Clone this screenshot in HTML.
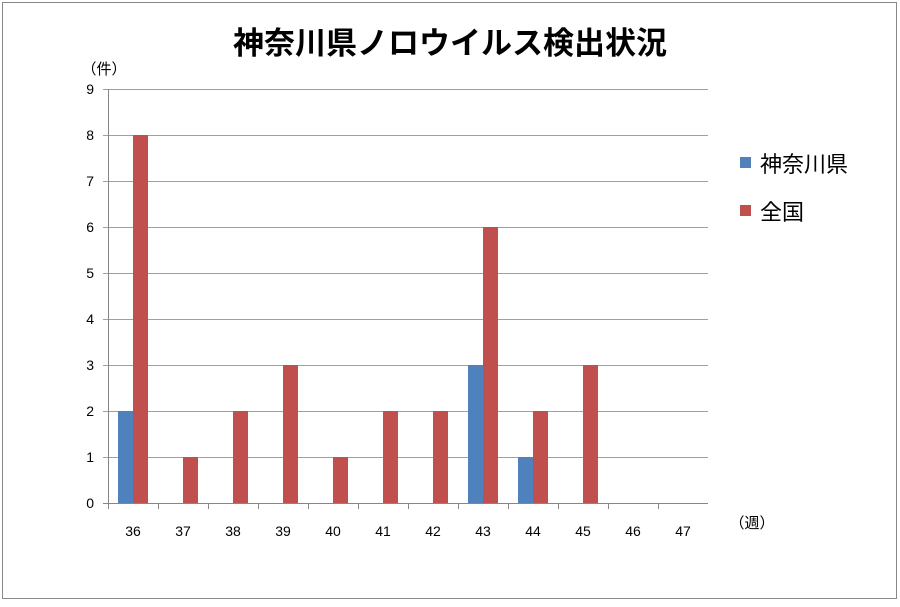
<!DOCTYPE html>
<html><head><meta charset="utf-8"><style>
body{margin:0;background:#fff;}
svg text{font-family:"Liberation Sans","Noto Sans CJK JP",sans-serif;}
</style></head><body>
<svg id="c" width="900" height="602">
<rect x="2.5" y="2.5" width="894" height="596" fill="#fff" stroke="#888"/>
<text x="450" y="54" text-anchor="middle" font-size="31" font-weight="bold" fill="#000">神奈川県ノロウイルス検出状況</text>
<text x="104" y="74" font-size="15" text-anchor="middle">（件）</text>
<text x="752" y="528" font-size="15" text-anchor="middle">（週）</text>
<g id="grid"></g><g id="bars"></g><g id="axes"></g>
<g>
<rect x="740" y="157" width="11" height="11" fill="#4f81bd"/>
<text x="760" y="172" font-size="22">神奈川県</text>
<rect x="740" y="205" width="11" height="11" fill="#c0504d"/>
<text x="760" y="220" font-size="22">全国</text>
</g>
</svg>
<script>
const categories=["36","37","38","39","40","41","42","43","44","45","46","47"];
const kanagawa=[2,0,0,0,0,0,0,3,1,0,0,0];
const national=[8,1,2,3,1,2,2,6,2,3,0,0];
const yTicks=[0,1,2,3,4,5,6,7,8,9];
const NS="http://www.w3.org/2000/svg";
const x0=108,x1=708,y0=503,yTop=89,yMax=9;
const bw=(x1-x0)/categories.length;
const y=v=>y0-(y0-yTop)*v/yMax;
const xc=i=>x0+bw*i;
function mk(t,a,p){const e=document.createElementNS(NS,t);for(const k in a)e.setAttribute(k,a[k]);p.appendChild(e);return e;}
const grid=document.getElementById('grid'),bars=document.getElementById('bars'),axes=document.getElementById('axes');
yTicks.forEach(v=>{
 const l=mk('line',{x1:x0-5,x2:x1,y1:y(v)+.5,y2:y(v)+.5,stroke:v===0?'#868686':'#a0a0a0'},grid);
 
 
 const t=mk('text',{x:x0-14,y:y(v)+5,'font-size':14,'text-anchor':'end'},axes);t.textContent=v;
 
 
});
mk('line',{x1:x0+.5,x2:x0+.5,y1:yTop,y2:y0,stroke:'#868686'},axes);
categories.forEach((c,i)=>{
 const tk=mk('line',{x1:xc(i)+.5,x2:xc(i)+.5,y1:y0,y2:y0+6,stroke:'#868686'},axes);
 
 
 const t=mk('text',{x:xc(i)+bw/2,y:y0+33,'font-size':14,'text-anchor':'middle'},axes);t.textContent=c;
 
 
 if(kanagawa[i]>0){const r=mk('rect',{x:xc(i)+10,y:y(kanagawa[i]),width:15,height:y0-y(kanagawa[i]),fill:'#4f81bd'},bars);
 
 }
 if(national[i]>0){const r=mk('rect',{x:xc(i)+25,y:y(national[i]),width:15,height:y0-y(national[i]),fill:'#c0504d'},bars);
 
 }
});
mk('line',{x1:x0,x2:x1,y1:y0+.5,y2:y0+.5,stroke:'#868686'},axes);
</script>
</body></html>
